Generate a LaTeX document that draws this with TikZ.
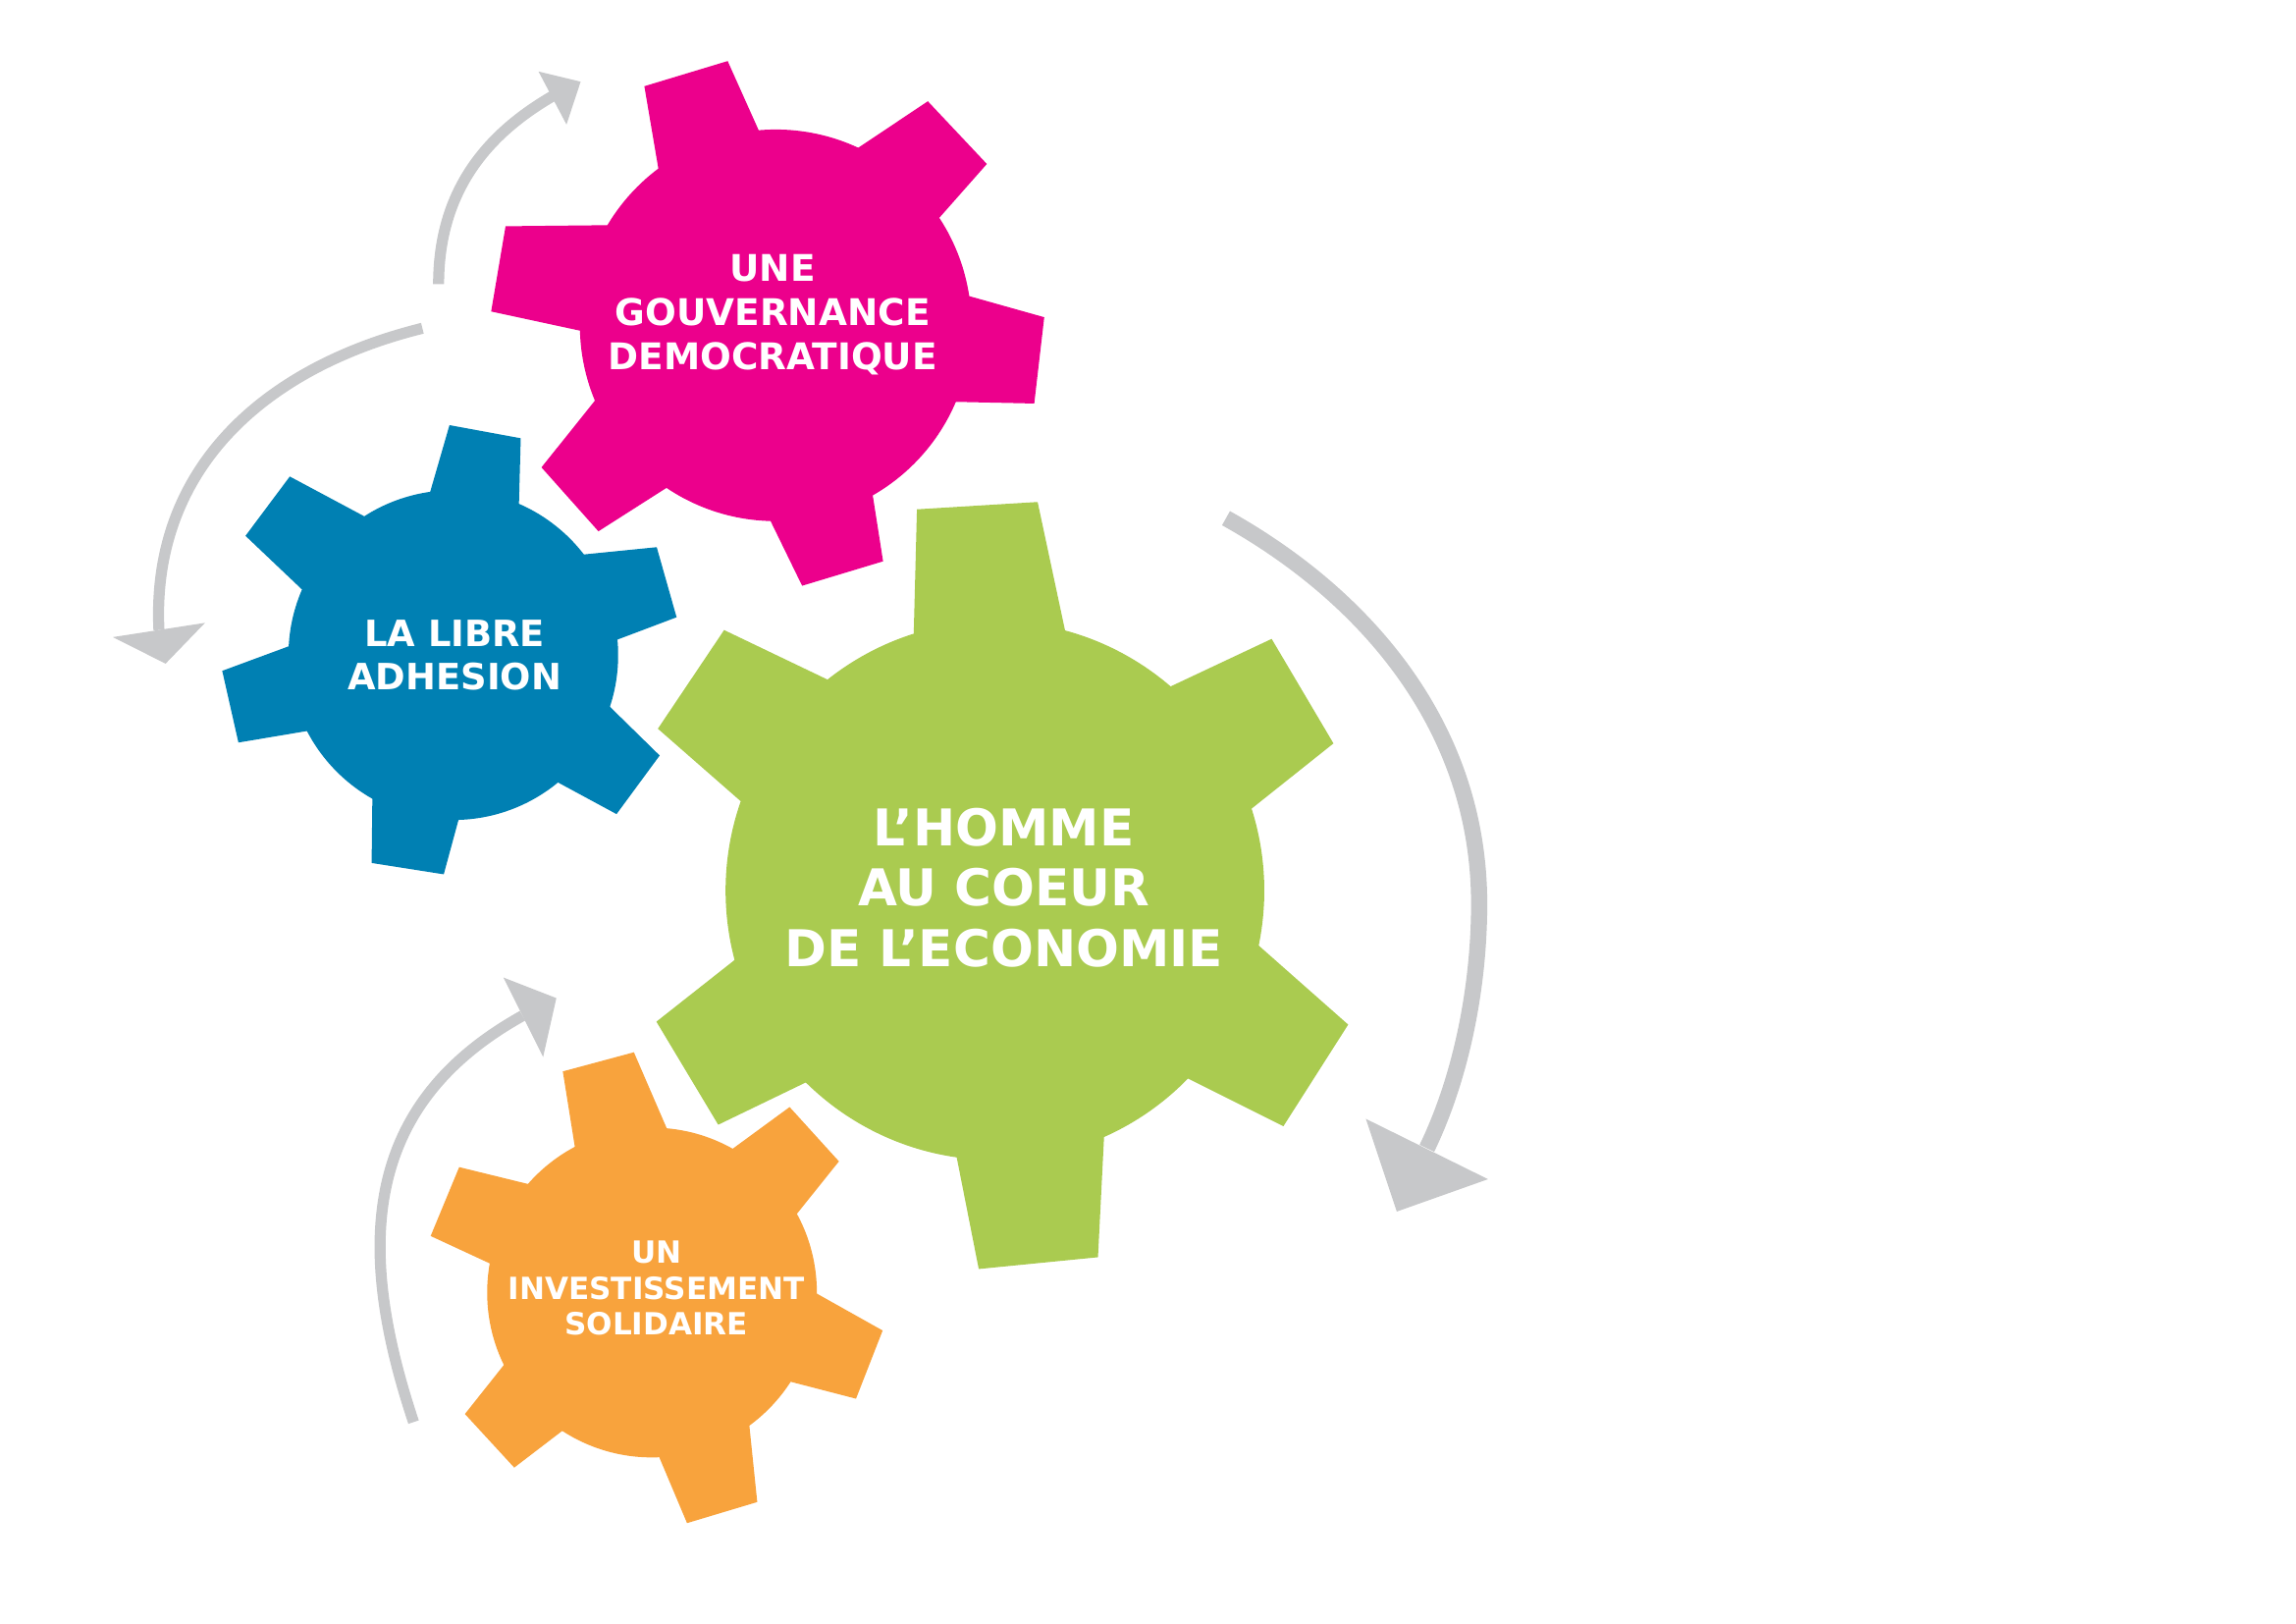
\documentclass[tikz,border=0pt]{standalone}
\usepackage{fontspec}
\setmainfont{DejaVu Sans}
\usetikzlibrary{calc}
\definecolor{gpink}{HTML}{EC008C}
\definecolor{gblue}{HTML}{0080B3}
\definecolor{ggreen}{HTML}{AACB50}
\definecolor{gorange}{HTML}{F8A33D}
\definecolor{agrey}{HTML}{C7C8CA}
% tooth: colour, inner1, outer1, outer2, inner2 (sides extended inwards)
\newcommand\geartooth[5]{\fill[#1] ($#3!1.6!#2$) -- #3 -- #4 -- ($#4!1.6!#5$) -- cycle;}
\begin{document}
\begin{tikzpicture}[x=0.1mm,y=-0.1mm,
  lbl/.style={text=white, align=center, inner sep=0pt},
  shaft/.style={draw=agrey, line width=7.5*0.2845pt, line cap=butt},
  bigshaft/.style={draw=agrey, line width=11*0.2845pt, line cap=butt},
  head/.style={fill=agrey}]
\fill[white] (0,0) rectangle (1560,1103);
\useasboundingbox (0,0) rectangle (1560,1103);

% ---------- arrows ----------
\coordinate (a1s) at (298,193);
\coordinate (a1e) at (376,65);
\draw[shaft] (a1s) .. controls (298,128) and (332.7,90) .. (a1e);
\fill[head] (365.9,48.6) -- (394.5,55.5) -- (384.9,84.6) -- cycle;

\coordinate (a2s) at (287,223);
\coordinate (a2e) at (108,428);
\draw[shaft] (a2s) .. controls (180.3,249.4) and (102.5,318) .. (a2e);
\fill[head] (76.7,432.8) -- (112.5,450.8) -- (139.3,423.1) -- cycle;

\coordinate (a3s) at (833,352);
\coordinate (a3m) at (1005,614);
\coordinate (a3e) at (969.5,780);
\draw[bigshaft] (a3s) .. controls (928,405) and (1005,494) .. (a3m)
                .. controls (1005,669) and (993.4,730.5) .. (a3e);
\fill[head] (928,760) -- (949,823) -- (1011,801) -- cycle;

\coordinate (a4s) at (281,966);
\coordinate (a4e) at (355,690);
\draw[shaft] (a4s) .. controls (241.5,847.4) and (245.8,750.8) .. (a4e);
\fill[head] (342,664) -- (378,678) -- (369,718) -- cycle;

% ---------- pink gear ----------
\fill[gpink] (527,221) circle[radius=133];
\geartooth{gpink}{(446.7,110.9)}{(437.8,58.6)}{(494.4,41.5)}{(515.2,87.9)}
\geartooth{gpink}{(582.7,100.7)}{(630.4,68.8)}{(670.5,111.4)}{(637.2,149.1)}
\geartooth{gpink}{(655.1,200.2)}{(709.5,215.5)}{(702.7,274.1)}{(646.1,272.9)}
\geartooth{gpink}{(592.6,334.1)}{(600,381.3)}{(545,397.9)}{(522.6,352)}
\geartooth{gpink}{(452.7,331.5)}{(406.6,360.9)}{(367.9,317.5)}{(403.6,272.9)}
\geartooth{gpink}{(399.1,225.7)}{(333.7,211.6)}{(343.5,153.7)}{(409.5,153)}
\node[lbl, font=\bfseries\fontsize{7.1}{8.5}\selectfont] (pinktxt) at (525,214) {UNE\\GOUVERNANCE\\DEMOCRATIQUE};

% ---------- blue gear ----------
\fill[gblue] (308,445) circle[radius=112];
\geartooth{gblue}{(292.6,333)}{(305.4,288.8)}{(353.8,297.7)}{(352.6,341.9)}
\geartooth{gblue}{(397.2,376.6)}{(446.2,371.7)}{(459.7,419.3)}{(418.9,434.7)}
\geartooth{gblue}{(414.3,480)}{(448.2,513.2)}{(418.9,553)}{(378,530.9)}
\geartooth{gblue}{(311.7,556.3)}{(301.5,593.9)}{(252.5,586.2)}{(253,542)}
\geartooth{gblue}{(208.4,496.6)}{(162,504.4)}{(151,455.7)}{(195.7,439.2)}
\geartooth{gblue}{(204.1,399.4)}{(166.8,364)}{(196.9,323.7)}{(246.7,350.3)}
\node[lbl, font=\bfseries\fontsize{7.0}{8.25}\selectfont] (bluetxt) at (309,445) {LA LIBRE\\ADHESION};

% ---------- green gear ----------
\fill[ggreen] (676,605) circle[radius=183];
\geartooth{ggreen}{(620.8,431)}{(623,346)}{(705,341)}{(724,430)}
\geartooth{ggreen}{(796,466)}{(864,434)}{(906,505)}{(852,548)}
\geartooth{ggreen}{(856,643)}{(916,696)}{(872,765)}{(808,733)}
\geartooth{ggreen}{(750,775)}{(746,854)}{(665,862)}{(650,786)}
\geartooth{ggreen}{(546,736)}{(488,764)}{(446,694)}{(498,653)}
\geartooth{ggreen}{(503,544)}{(447,495)}{(492,428)}{(563,462)}
\node[lbl, font=\bfseries\fontsize{9.8}{11.7}\selectfont] (greentxt) at (682,603) {L’HOMME\\AU COEUR\\DE L’ECONOMIE};

% ---------- orange gear ----------
\fill[gorange] (443,878) circle[radius=112];
\geartooth{gorange}{(390.7,779.8)}{(382.4,727.8)}{(430.7,714.8)}{(452.6,765.5)}
\geartooth{gorange}{(500.3,778.5)}{(536.5,752)}{(570,788.9)}{(542.9,822.7)}
\geartooth{gorange}{(557.1,879.9)}{(599.7,903.8)}{(581.6,950.1)}{(536.5,938.4)}
\geartooth{gorange}{(509.4,970.9)}{(514.5,1020.3)}{(466.8,1034.6)}{(448.7,991.7)}
\geartooth{gorange}{(381.7,972.2)}{(349.4,996.9)}{(315.9,960.5)}{(341.7,928)}
\geartooth{gorange}{(334.7,859.1)}{(292.6,839.6)}{(312,792.8)}{(359.7,804.5)}
\node[lbl, font=\bfseries\fontsize{5.9}{7}\selectfont] (orangetxt) at (446,875) {UN\\INVESTISSEMENT\\SOLIDAIRE};
\end{tikzpicture}
\end{document}
